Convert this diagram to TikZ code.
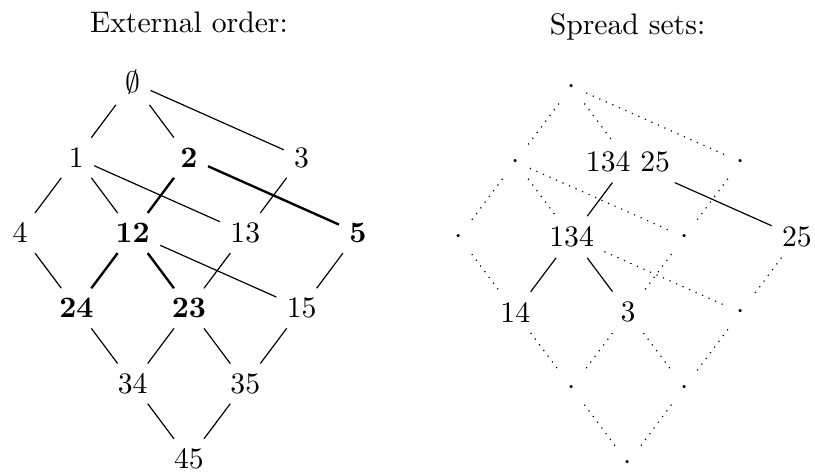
\documentclass[tikz,border=0pt]{standalone}
\usepackage{amsmath}
\usepackage{amssymb}
\usepackage{tikz}
\tikzset{
  hasse/.style={line width=0.4pt},
  chosen/.style={thick},
  spread/.style={dotted},
  pt/.style={inner sep=3.33pt}
}

\begin{document}
\begin{tikzpicture}[x=0.6667cm, y=-0.891cm]
        \useasboundingbox (-0.355,-1.0956) rectangle (14.113,5.199);
        % Titles
        \node[anchor=base] (titleL) at (3,-0.667) {External order:};
        \node[anchor=base] (titleR) at (10.785,-0.631) {Spread sets:};

        % External order lattice
        \node (e0) at (2,0) {$\emptyset$};
        \node (e1) at (1,1) {$1$};
        \node (e2) at (3,1) {$\mathbf{2}$};
        \node (e3) at (5,1) {$3$};
        \node (e4) at (0,2) {$4$};
        \node (e12) at (2,2) {$\mathbf{12}$};
        \node (e13) at (4,2) {$13$};
        \node (e5) at (6,2) {$\mathbf{5}$};
        \node (e24) at (1,3) {$\mathbf{24}$};
        \node (e23) at (3,3) {$\mathbf{23}$};
        \node (e15) at (5,3) {$15$};
        \node (e34) at (2,4) {$34$};
        \node (e35) at (4,4) {$35$};
        \node (e45) at (3,5) {$45$};

        \draw[hasse] (e0) -- (e1);
        \draw[hasse] (e0) -- (e2);
        \draw[hasse] (e0) -- (e3);
        \draw[hasse] (e1) -- (e4);
        \draw[hasse] (e1) -- (e12);
        \draw[hasse] (e1) -- (e13);
        \draw[chosen] (e2) -- (e12);
        \draw[chosen] (e2) -- (e5);
        \draw[hasse] (e3) -- (e13);
        \draw[hasse] (e4) -- (e24);
        \draw[chosen] (e12) -- (e24);
        \draw[chosen] (e12) -- (e23);
        \draw[hasse] (e12) -- (e15);
        \draw[hasse] (e13) -- (e23);
        \draw[hasse] (e5) -- (e15);
        \draw[hasse] (e24) -- (e34);
        \draw[hasse] (e23) -- (e34);
        \draw[hasse] (e23) -- (e35);
        \draw[hasse] (e15) -- (e35);
        \draw[hasse] (e34) -- (e45);
        \draw[hasse] (e35) -- (e45);

        % Spread sets
        \begin{scope}[shift={(7.793,0.053)}]
        \node[pt] (s0) at (2,0) {$\cdot$};
        \node[pt] (s1) at (1,1) {$\cdot$};
        \node (s2) at (3,1) {134 25};
        \node[pt] (s3) at (5,1) {$\cdot$};
        \node[pt] (s4) at (0,2) {$\cdot$};
        \node (s12) at (2,2) {134};
        \node[pt] (s13) at (4,2) {$\cdot$};
        \node (s5) at (6,2) {25};
        \node (s24) at (1,3) {14};
        \node (s23) at (3,3) {3};
        \node[pt] (s15) at (5,3) {$\cdot$};
        \node[pt] (s34) at (2,4) {$\cdot$};
        \node[pt] (s35) at (4,4) {$\cdot$};
        \node[pt] (s45) at (3,5) {$\cdot$};

        \draw[spread] (s0) -- (s1);
        \draw[spread] (s0) -- (s2);
        \draw[spread] (s0) -- (s3);
        \draw[spread] (s1) -- (s4);
        \draw[spread] (s1) -- (s12);
        \draw[spread] (s1) -- (s13);
        \draw[hasse] (s2) -- (s12);
        \draw[hasse] (s2) -- (s5);
        \draw[spread] (s3) -- (s13);
        \draw[spread] (s4) -- (s24);
        \draw[hasse] (s12) -- (s24);
        \draw[hasse] (s12) -- (s23);
        \draw[spread] (s12) -- (s15);
        \draw[spread] (s13) -- (s23);
        \draw[spread] (s5) -- (s15);
        \draw[spread] (s24) -- (s34);
        \draw[spread] (s23) -- (s34);
        \draw[spread] (s23) -- (s35);
        \draw[spread] (s15) -- (s35);
        \draw[spread] (s34) -- (s45);
        \draw[spread] (s35) -- (s45);
        \end{scope}
    \end{tikzpicture}
\end{document}
